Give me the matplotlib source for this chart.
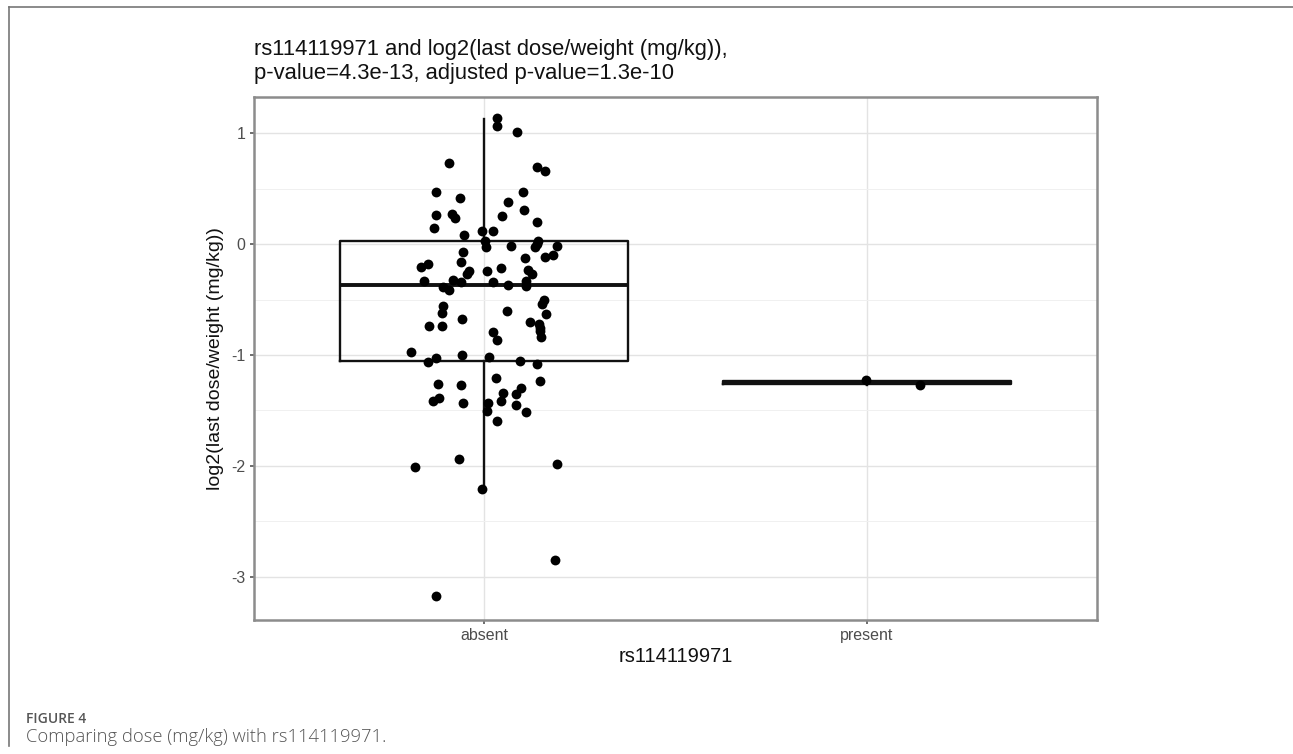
import matplotlib
matplotlib.use("Agg")
import matplotlib.pyplot as plt
from matplotlib.lines import Line2D

plt.rcParams['font.family'] = ['Liberation Sans', 'DejaVu Sans']

# ---- data ----
categories = ["absent", "present"]

absent_values = [
    1.135, 1.068, 1.009, 0.731, 0.693, 0.656, 0.472, 0.472, 0.413, 0.377,
    0.310, 0.271, 0.262, 0.250, 0.232, 0.147, 0.201, 0.084, 0.120, 0.120,
    0.030, -0.030, -0.015, 0.030, 0.000, -0.030, -0.015, -0.075, -0.160, -0.129,
    -0.120, -0.099, -0.181, -0.210, -0.241, -0.271, -0.241, -0.219, -0.235, -0.271,
    -0.337, -0.322, -0.346, -0.340, -0.370, -0.331, -0.377, -0.391, -0.415, -0.503,
    -0.542, -0.557, -0.623, -0.608, -0.632, -0.677, -0.707, -0.722, -0.743, -0.738,
    -0.783, -0.797, -0.842, -0.867, -0.978, -1.000, -1.018, -1.032, -1.063, -1.054,
    -1.084, -1.264, -1.270, -1.210, -1.234, -1.345, -1.303, -1.354, -1.393, -1.420,
    -1.438, -1.438, -1.420, -1.451, -1.505, -1.511, -1.595, -1.941, -2.011, -1.980,
    -2.206, -2.851, -3.176, -0.758,
]
absent_jitter = [
    0.035, 0.035, 0.087, -0.091, 0.138, 0.159, -0.124, 0.103, -0.063, 0.063,
    0.105, -0.084, -0.126, 0.046, -0.076, -0.131, 0.138, -0.053, -0.004, 0.023,
    0.003, 0.005, 0.072, 0.142, 0.138, 0.133, 0.191, -0.054, -0.061, 0.107,
    0.159, 0.181, -0.147, -0.164, -0.039, -0.045, 0.007, 0.044, 0.116, 0.125,
    -0.156, -0.080, -0.061, 0.024, 0.063, 0.111, 0.110, -0.108, -0.091, 0.157,
    0.151, -0.106, -0.110, 0.059, 0.161, -0.058, 0.120, 0.143, -0.143, -0.110,
    0.146, 0.023, 0.149, 0.033, -0.190, -0.058, 0.014, -0.125, -0.147, 0.094,
    0.138, -0.119, -0.061, 0.031, 0.146, 0.049, 0.096, 0.085, -0.117, -0.134,
    -0.054, 0.011, 0.044, 0.083, 0.007, 0.111, 0.033, -0.065, -0.181, 0.191,
    -0.004, 0.185, -0.125, 0.146,
]
present_values = [-1.228, -1.273]
present_jitter = [-0.003, 0.138]

# box statistics
box_whislo = [-2.206, -1.273]
box_q1 = [-1.054, -1.262]
box_median = [-0.367, -1.250]
box_q3 = [0.030, -1.239]
box_whishi = [1.126, -1.228]

title_line1 = "rs114119971 and log2(last dose/weight (mg/kg)),"
title_line2 = "p-value=4.3e-13, adjusted p-value=1.3e-10"
x_label = "rs114119971"
y_label = "log2(last dose/weight (mg/kg))"
y_ticks = [-3, -2, -1, 0, 1]
y_minor = [-2.5, -1.5, -0.5, 0.5]
caption_head = "FIGURE 4"
caption_body = "Comparing dose (mg/kg) with rs114119971."

# ---- figure ----
W, H = 1293, 754
fig = plt.figure(figsize=(W / 100, H / 100), dpi=100)
fig.patch.set_facecolor("white")

# outer frame lines (left and top)
fig.add_artist(Line2D([9 / W, 9 / W], [1 - 746 / H, 1 - 7 / H], transform=fig.transFigure,
                      color="#777777", lw=1.2))
fig.add_artist(Line2D([9 / W, 1], [1 - 7 / H, 1 - 7 / H], transform=fig.transFigure,
                      color="#777777", lw=1.2))

ax = fig.add_axes([254 / W, 1 - 620 / H, (1097 - 254) / W, (620 - 96.7) / H])

positions = [1, 2]
stats = []
for i in range(2):
    stats.append(dict(med=box_median[i], q1=box_q1[i], q3=box_q3[i],
                      whislo=box_whislo[i], whishi=box_whishi[i], fliers=[]))

ax.bxp(stats, positions=positions, widths=0.75, showfliers=False, showcaps=False,
       boxprops=dict(color="#111111", linewidth=1.7),
       whiskerprops=dict(color="#111111", linewidth=1.7),
       medianprops=dict(color="#111111", linewidth=2.8),
       manage_ticks=False, zorder=2)

ax.scatter([positions[0] + j for j in absent_jitter], absent_values,
           s=50, color="black", zorder=3, linewidths=0)
ax.scatter([positions[1] + j for j in present_jitter], present_values,
           s=50, color="black", zorder=3, linewidths=0)

ax.set_xlim(0.4, 2.6)
ax.set_ylim(-3.392, 1.33)
ax.set_xticks(positions)
ax.set_xticklabels(categories)
ax.set_yticks(y_ticks)
ax.set_yticklabels([str(t) for t in y_ticks])
ax.set_yticks(y_minor, minor=True)
ax.tick_params(axis="both", which="major", colors="#555555", labelsize=11.5,
               length=3, width=1.2, labelcolor="#4D4D4D", pad=3)
ax.tick_params(axis="y", which="minor", length=0)
ax.grid(True, which="major", color="#E3E3E3", linewidth=1.0, zorder=0)
ax.grid(True, which="minor", axis="y", color="#F0F0F0", linewidth=0.7, zorder=0)
ax.set_axisbelow(True)
for sp in ax.spines.values():
    sp.set_color("#8C8C8C")
    sp.set_linewidth(1.8)

ax.set_xlabel(x_label, fontsize=14.5, color="#111111", labelpad=3)
ax.set_ylabel(y_label, fontsize=14, color="#111111", labelpad=5)

fig.text(254 / W, 1 - 55 / H, title_line1, ha="left", va="baseline",
         fontsize=15.8, color="#111111")
fig.text(254 / W, 1 - 79 / H, title_line2, ha="left", va="baseline",
         fontsize=15.8, color="#111111")

fig.text(26 / W, 1 - 723 / H, caption_head, ha="left", va="baseline",
         fontsize=10, color="#555555", family=["Open Sans", "DejaVu Sans"],
         fontweight="semibold")
fig.text(26 / W, 1 - 742 / H, caption_body, ha="left", va="baseline",
         fontsize=13.2, color="#555555", family=["Open Sans", "DejaVu Sans"],
         fontweight="light")

fig.savefig("out.png", dpi=100)
